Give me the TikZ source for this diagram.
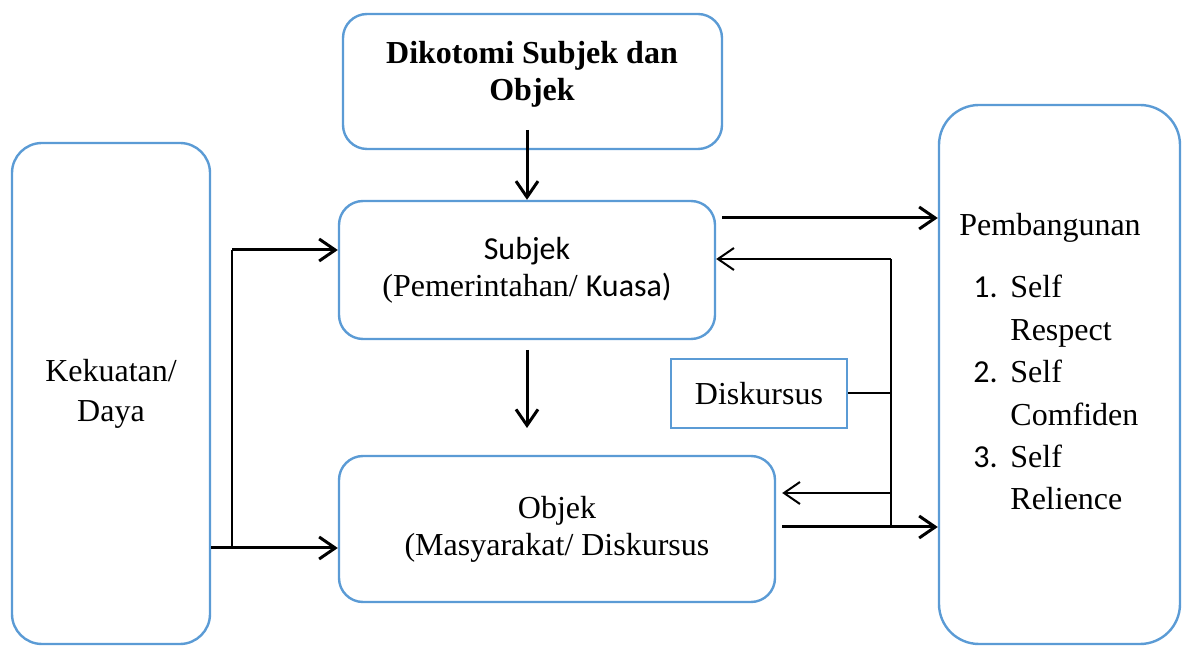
\documentclass[tikz,border=0pt]{standalone}
\usepackage{fontspec}
\setmainfont{Liberation Serif}
\newfontfamily\calibri{Carlito}
\usetikzlibrary{arrows.meta}
\definecolor{boxblue}{RGB}{91,155,213}

\begin{document}
\begin{tikzpicture}[x=.5pt,y=-.5pt,
  >={Straight Barb[length=8pt,width=11pt]},
  every node/.style={font=\fontsize{16}{18.5}\selectfont},
  box/.style={draw=boxblue,line width=1.2pt,rounded corners=12pt,align=center},
  arr/.style={->,line width=1.5pt},
  fb/.style={line width=1pt}]
\useasboundingbox (0,0) rectangle (1184,646);

\node[box,minimum width=189.5pt,minimum height=67.5pt] (dik) at (532.5,81.5) {};
\node[align=center,font=\fontsize{16}{18.5}\selectfont\bfseries] (dikt) at (532,74) {Dikotomi Subjek dan\\Objek};
\node[box,minimum width=188pt,minimum height=69pt] (subj) at (527,270) {{\calibri Subjek}\\(Pemerintahan/ {\calibri Kuasa)}};
\node[box,minimum width=218pt,minimum height=73pt] (obj) at (557,529) {Objek\\(Masyarakat/ Diskursus};
\node[box,rounded corners=15pt,minimum width=99pt,minimum height=250.5pt] (kek) at (111,393.5) {Kekuatan/\\[1.5pt]Daya};
\node[box,rounded corners=20pt,minimum width=120.5pt,minimum height=269.5pt] (pemb) at (1059.5,374.5) {};
\node[box,sharp corners,minimum width=88pt,minimum height=34.5pt] (disk) at (759,393.5) {Diskursus};

\node[anchor=base west,inner sep=0pt] (pemt) at (959,236) {Pembangunan};
\foreach \w [count=\i from 0] in {Self,Respect,Self,Comfiden,Self,Relience}
  \node[anchor=base west,inner sep=0pt] (pl\i) at (1010,298+42.4*\i) {\w};
\foreach \i in {1,2,3}
  \node[anchor=base west,inner sep=0pt] (num\i) at (973,298+84.8*\i-84.8) {\calibri\i.};

\coordinate (t1) at (527,130);
\draw[arr] (t1) -- (subj.north);
\coordinate (m1) at (527,350);
\coordinate (m2) at (527,428);
\draw[arr] (m1) -- (m2);

\coordinate (lt) at (232,250);
\coordinate (lb) at (232,548);
\draw[line width=1.2pt] (lt) -- (lb);
\draw[arr] (lt) -- (subj.west |- lt);
\draw[arr] (kek.east |- lb) -- (obj.west |- lb);

\coordinate (rt) at (722,218);
\draw[arr] (rt) -- (pemb.west |- rt);

\coordinate (ft) at (891,259);
\coordinate (fo) at (891,493);
\coordinate (fbt) at (891,527);
\draw[fb] (ft) -- (fbt);
\draw[fb,->] (ft) -- (subj.east |- ft);
\draw[fb,->,shorten >=3pt] (fo) -- (obj.east |- fo);
\draw[fb] (disk.east) -- (disk.east -| ft);
\draw[arr,shorten <=3pt] (obj.east |- fbt) -- (pemb.west |- fbt);
\end{tikzpicture}
\end{document}
